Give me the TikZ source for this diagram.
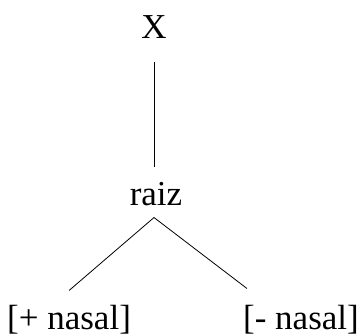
\documentclass[tikz,border=0pt]{standalone}
\usepackage{fontspec}
\setmainfont{Liberation Serif}
\begin{document}
\begin{tikzpicture}[x=1pt,y=1pt,
  lbl/.style={inner sep=0pt, font=\fontsize{35}{42}\selectfont},
  edge/.style={line width=0.8pt, black}]
\useasboundingbox[fill=white] (0,0) rectangle (359,336);
\node[lbl, anchor=base] (X) at (154,297) {X};
\node[lbl, anchor=base] (raiz) at (156,130) {raiz};
\node[lbl, anchor=base west] (plus) at (7,6) {[+ nasal]};
\node[lbl, anchor=base east] (minus) at (359,6) {[- nasal]};
\coordinate (xs) at ([yshift=-23pt]X.south);
\coordinate (rn) at ([xshift=-2pt,yshift=16pt]raiz.north);
\coordinate (apex) at ([xshift=-2pt,yshift=-11pt]raiz.south);
\coordinate (pl) at ([yshift=15pt]plus.north);
\coordinate (mi) at ([xshift=4pt,yshift=17pt]minus.north west);
\draw[edge] (xs) -- (rn);
\draw[edge] (pl) -- (apex) -- (mi);
\end{tikzpicture}
\end{document}
